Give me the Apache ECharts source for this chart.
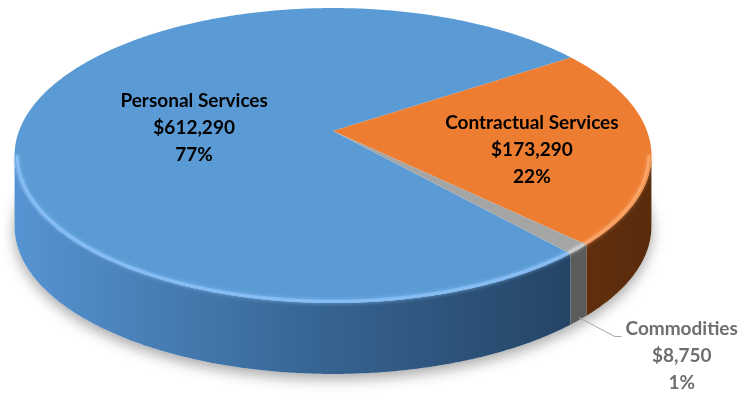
<!DOCTYPE html>
<html>
<head>
<meta charset="utf-8">
<script src="https://cdn.jsdelivr.net/npm/echarts@6/dist/echarts.min.js"></script>
<style>
  html, body { margin: 0; padding: 0; background: #ffffff; }
  #chart { width: 741px; height: 393px; }
</style>
</head>
<body>
<div id="chart"></div>
<script>
// Budget breakdown by category
const categories = ['Personal Services', 'Contractual Services', 'Commodities'];
const amounts = [612290, 173290, 8750];

// Colours: top face, side wall gradient (left → right), rim highlight, label text
const topColors = ['#5B9BD5', '#ED7D31', '#A5A5A5'];
const wallColors = [
  ['#5794D3', '#35628F', '#1F3A57'],
  ['#8A4616', '#763B11', '#5A2C0C'],
  ['#7E7E7E', '#696969', '#575757']
];
const rimColors = ['rgba(135,190,245,0.95)', 'rgba(250,165,105,0.95)', 'rgba(205,205,205,0.95)'];
const labelColors = ['#000000', '#000000', '#6E6E6E'];

// Perspective view of the disc (pixels)
const view = { cx: 333, cy: 131, rx: 314, ry: 143.4, dist: 6.02, depth: 71, startDeg: 138.5 };

// Label placement: radial factor and vertical nudge for inside labels
const labelPlacement = [
  { inside: true, r: 0.45, dy: 5 },
  { inside: true, r: 0.63, dy: 11 },
  { inside: false }
];

const total = amounts.reduce((a, b) => a + b, 0);
const sliceAngles = [];
(function () {
  let acc = view.startDeg;
  amounts.forEach(v => {
    const span = v / total * 360;
    sliceAngles.push([acc, acc + span]);
    acc += span;
  });
})();

const silDeg = Math.acos(-1 / view.dist) * 180 / Math.PI;

function project(deg, r, lift) {
  const t = deg * Math.PI / 180;
  const X = r * Math.sin(t);
  const Z = -r * Math.cos(t);
  const s = view.dist / (view.dist - Z);
  return [view.cx + view.rx * X * s, view.cy + view.ry * Z * s + lift];
}

function arc(from, to, r, lift) {
  const pts = [];
  const n = Math.max(2, Math.ceil(Math.abs(to - from) / 0.5));
  for (let k = 0; k <= n; k++) {
    pts.push(project(from + (to - from) * k / n, r, lift));
  }
  return pts;
}

// Visible parts of the outer wall for an angle range
function wallRanges(a0, a1) {
  const out = [];
  [[silDeg, 360 - silDeg], [silDeg + 360, 720 - silDeg]].forEach(([v0, v1]) => {
    const b0 = Math.max(a0, v0), b1 = Math.min(a1, v1);
    if (b1 > b0) out.push([b0, b1]);
  });
  return out;
}

function fmtMoney(v) { return '$' + v.toLocaleString('en-US'); }
function fmtPct(v) { return Math.round(v / total * 100) + '%'; }

const labelFont = { fontFamily: 'Lato', fontWeight: 'bold', fontSize: 19 };

function renderItem(params, api) {
  const i = params.dataIndex;
  const [a0, a1] = sliceAngles[i];
  const children = [];

  if (i === 0) {
    // soft ground shadow under the whole disc
    children.push({
      type: 'polygon',
      shape: { points: arc(0, 360, 1, view.depth) },
      style: { fill: '#ffffff', shadowBlur: 14, shadowOffsetY: 5, shadowColor: 'rgba(0,0,0,0.35)' },
      silent: true
    });
  }

  const grad = new echarts.graphic.LinearGradient(view.cx - view.rx * 1.02, 0, view.cx + view.rx * 1.02, 0, [
    { offset: 0, color: wallColors[i][0] },
    { offset: 0.5, color: wallColors[i][1] },
    { offset: 1, color: wallColors[i][2] }
  ], true);

  wallRanges(a0, a1).forEach(([b0, b1]) => {
    const topEdge = arc(b0, b1, 1, 0);
    const botEdge = arc(b0, b1, 1, view.depth).reverse();
    children.push({
      type: 'polygon',
      shape: { points: topEdge.concat(botEdge) },
      style: { fill: grad }
    });
  });

  children.push({
    type: 'polygon',
    shape: { points: [[view.cx, view.cy]].concat(arc(a0, a1, 1, 0)) },
    style: { fill: topColors[i] }
  });

  wallRanges(a0, a1).forEach(([b0, b1]) => {
    children.push({
      type: 'polyline',
      shape: { points: arc(b0, b1, 0.992, 0) },
      style: { stroke: rimColors[i], lineWidth: 3, fill: null, shadowBlur: 4, shadowColor: rimColors[i] },
      silent: true
    });
  });

  const mid = (a0 + a1) / 2;
  const text = categories[i] + '\n' + fmtMoney(amounts[i]) + '\n' + fmtPct(amounts[i]);
  const place = labelPlacement[i];
  if (place.inside) {
    const p = project(mid, place.r, 0);
    children.push({
      type: 'text',
      style: Object.assign({
        text: text, x: p[0], y: p[1] + place.dy,
        fill: labelColors[i], align: 'center', verticalAlign: 'middle', lineHeight: 27
      }, labelFont)
    });
  } else {
    const start = project(mid, 1, view.depth * 0.96);
    const bend = [start[0] + 36, start[1] + 19];
    const end = [bend[0] + 7, bend[1]];
    children.push({
      type: 'polyline',
      shape: { points: [start, bend, end] },
      style: { stroke: '#A6A6A6', lineWidth: 1, fill: null }
    });
    children.push({
      type: 'text',
      style: Object.assign({
        text: text, x: end[0] + 60, y: end[1] + 19,
        fill: labelColors[i], align: 'center', verticalAlign: 'middle', lineHeight: 27
      }, labelFont)
    });
  }

  return { type: 'group', children: children };
}

const chart = echarts.init(document.getElementById('chart'), null, { renderer: 'canvas' });
chart.setOption({
  animation: false,
  backgroundColor: '#ffffff',
  series: [{
    type: 'custom',
    coordinateSystem: 'none',
    renderItem: renderItem,
    data: amounts.map((v, i) => ({ name: categories[i], value: v }))
  }]
});
</script>
</body>
</html>
